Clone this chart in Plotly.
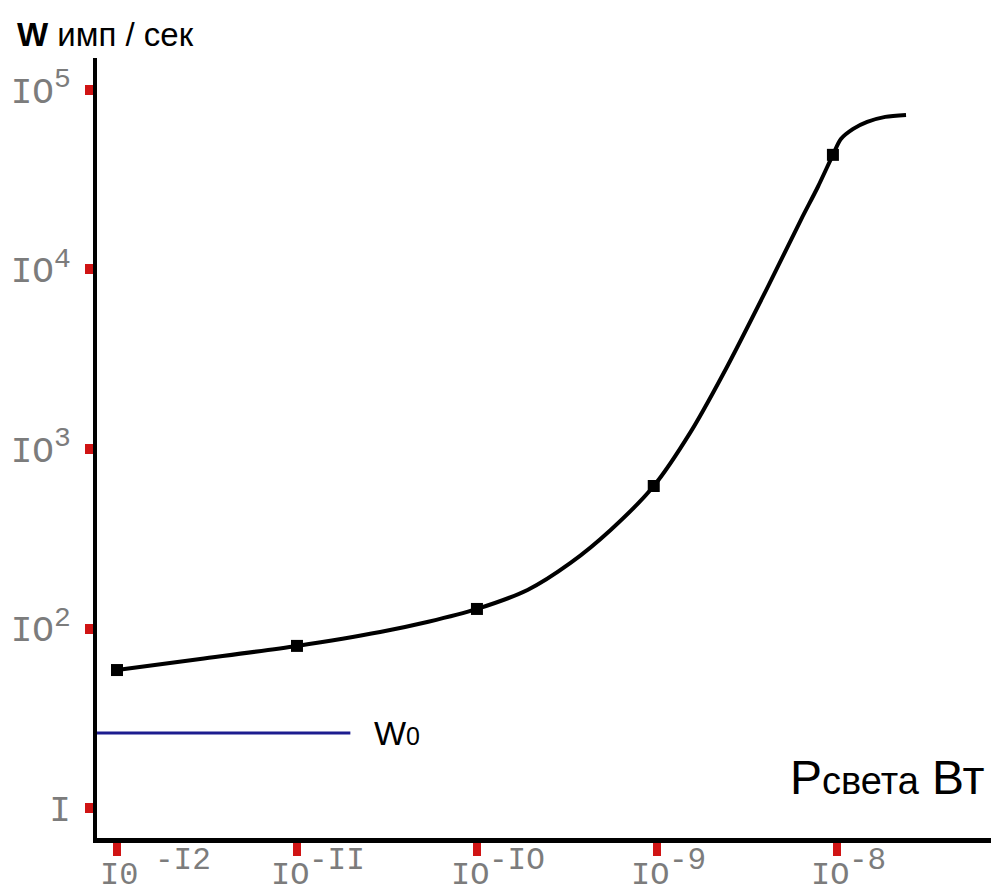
import math
import plotly.graph_objects as go

# Curve (power in W, rate in pulses/s)
curve_p = [1.0e-12, 2.9e-12, 1.0e-11, 2.9e-11, 5.37e-11, 1.0e-10, 1.91e-10, 3.31e-10, 5.53e-10,
           9.6e-10, 1.54e-9, 2.35e-9, 4.13e-9, 6.31e-9, 7.83e-9, 9.5e-9,
           1.052e-8, 1.231e-8, 1.473e-8, 1.855e-8, 2.42e-8]
curve_w = [58.7, 67.6, 80.0, 95.6, 109, 128.5, 164, 232, 354,
           622, 1245, 2650, 8000, 18900, 28800, 43500,
           53300, 60700, 66400, 70800, 72600]

# Measured points (square markers)
meas_p = [1.0e-12, 1.0e-11, 1.0e-10, 9.6e-10, 9.5e-9]
meas_w = [58.7, 80.0, 128.5, 622, 43500]

# Background level W0
w0_p = [7.74e-13, 1.98e-11]
w0_w = [26.2, 26.2]

x_tickvals = [1e-12, 1e-11, 1e-10, 1e-9, 1e-8]
x_main = ["I0", "IO", "IO", "IO", "IO"]
x_exp = ["-I2", "-II", "-IO", "-9", "-8"]
y_tickvals = [10, 100, 1000, 10000, 100000]
y_main = ["I", "IO", "IO", "IO", "IO"]
y_sup = ["", "2", "3", "4", "5"]

MONO = "Liberation Mono, Courier New, monospace"
SANS = "Liberation Sans, Arial, sans-serif"
GREY = "#7c7c7c"
RED = "#d01414"

y_ticktext = [m + (f"<sup><span style='font-size:28px'>{s}</span></sup>" if s else "")
              for m, s in zip(y_main, y_sup)]

fig = go.Figure()
fig.add_trace(go.Scatter(x=w0_p, y=w0_w, mode="lines",
                         line=dict(color="#1c1c8f", width=3), showlegend=False,
                         hoverinfo="skip"))
fig.add_trace(go.Scatter(x=curve_p, y=curve_w, mode="lines",
                         line=dict(color="black", width=4, shape="spline", smoothing=0.8),
                         showlegend=False))
fig.add_trace(go.Scatter(x=meas_p, y=meas_w, mode="markers",
                         marker=dict(symbol="square", size=12, color="black"),
                         showlegend=False))

fig.update_xaxes(type="log", range=[-12.111, -7.144], automargin=False,
                 showline=True, linecolor="black", linewidth=5,
                 showgrid=False, zeroline=False,
                 tickmode="array", tickvals=x_tickvals, showticklabels=False,
                 ticks="outside", ticklen=13, tickwidth=8, tickcolor=RED)
fig.update_yaxes(type="log", range=[0.833, 5.178], automargin=False,
                 showline=True, linecolor="black", linewidth=4,
                 showgrid=False, zeroline=False,
                 tickmode="array", tickvals=y_tickvals, ticktext=y_ticktext,
                 ticks="outside", ticklen=8, tickwidth=10, tickcolor=RED,
                 tickfont=dict(family=MONO, size=36, color=GREY), ticklabelstandoff=7)

# x tick labels (exponent notation as printed): mantissa and raised exponent
for i, (tv, m, e) in enumerate(zip(x_tickvals, x_main, x_exp)):
    first = (i == 0)
    fig.add_annotation(x=math.log10(tv), y=0, xref="x", yref="paper",
                       xanchor="right", yanchor="middle", showarrow=False,
                       xshift=23 if first else 14, yshift=-37,
                       text=m, font=dict(family=MONO, size=32, color=GREY))
    fig.add_annotation(x=math.log10(tv), y=0, xref="x", yref="paper",
                       xanchor="left", yanchor="middle", showarrow=False,
                       xshift=36 if first else 10, yshift=-22,
                       text=e, font=dict(family=MONO, size=31, color=GREY))

fig.add_annotation(xref="paper", yref="paper", x=-0.092, y=1.03,
                   xanchor="left", yanchor="middle", showarrow=False,
                   text="<b>W</b> имп / сек",
                   font=dict(family=SANS, size=33, color="black"))
fig.add_annotation(xref="paper", yref="paper", x=0.995, y=0.078,
                   xanchor="right", yanchor="middle", showarrow=False,
                   text="P<span style='font-size:38px'>света</span> Вт",
                   font=dict(family=SANS, size=48, color="black"))
fig.add_annotation(x=-10.581, y=math.log10(w0_w[0]), xref="x", yref="y",
                   xanchor="left", yanchor="middle", showarrow=False,
                   text="W<span style='font-size:25px'>0</span>",
                   font=dict(family=SANS, size=34, color="black"))

fig.update_layout(width=991, height=895,
                  margin=dict(l=97, r=0, t=58, b=57),
                  plot_bgcolor="white", paper_bgcolor="white")

fig.write_html("out.html", config={"displayModeBar": False},
               post_script="document.body.style.margin='0px';")
